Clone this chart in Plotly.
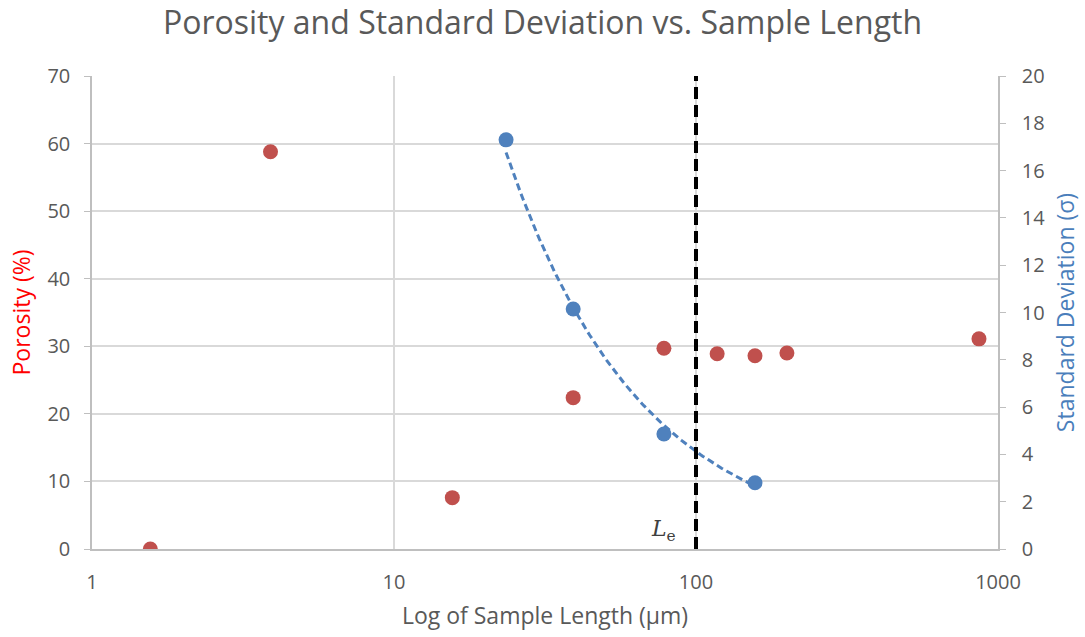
import numpy as np
import plotly.graph_objects as go

# Porosity measurements (left axis)
porosity_length = [1.56, 3.9, 15.6, 39.2, 78.3, 117.5, 156.8, 200, 865]
porosity_pct = [0.0, 58.8, 7.6, 22.4, 29.7, 28.9, 28.6, 29.0, 31.1]

# Standard deviation measurements (right axis)
sd_length = [23.5, 39.2, 78.3, 156.8]
sd_sigma = [17.3, 10.15, 4.86, 2.8]

# Representative elementary length marker
le_length = 100

x_ticks = [1, 10, 100, 1000]

GRAY = "#595959"
FONT = "Open Sans"

# Power-law trend of sigma vs length (least squares in log-log space)
b, ln_a = np.polyfit(np.log(sd_length), np.log(sd_sigma), 1)
trend_x = np.logspace(np.log10(min(sd_length)), np.log10(max(sd_length)), 120)
trend_y = np.exp(ln_a) * trend_x ** b

fig = go.Figure()

fig.add_trace(go.Scatter(
    x=trend_x, y=trend_y, mode="lines", yaxis="y2",
    line=dict(color="#4F81BD", width=3, dash="7px,4px"),
    hoverinfo="skip", showlegend=False,
))

fig.add_trace(go.Scatter(
    x=porosity_length, y=porosity_pct, mode="markers",
    marker=dict(color="#C0504D", size=15),
    name="Porosity", showlegend=False,
))

fig.add_trace(go.Scatter(
    x=sd_length, y=sd_sigma, mode="markers", yaxis="y2",
    marker=dict(color="#4F81BD", size=15),
    name="Standard Deviation", showlegend=False,
))

fig.add_shape(
    type="line", xref="x", yref="paper",
    x0=le_length, x1=le_length, y0=0, y1=1,
    line=dict(color="black", width=4, dash="12px,6px"),
)

fig.add_annotation(
    x=np.log10(le_length), y=0, xref="x", yref="y",
    text="<i>L</i><sub>e</sub>", showarrow=False,
    xanchor="right", yanchor="bottom", xshift=-18, yshift=2,
    font=dict(family="DejaVu Serif", size=22, color="#404040"),
)

fig.update_layout(
    width=1085, height=637,
    margin=dict(l=92, r=87, t=76, b=88),
    paper_bgcolor="white", plot_bgcolor="white",
    font=dict(family=FONT, color=GRAY, size=20),
    title=dict(
        text="Porosity and Standard Deviation vs. Sample Length",
        x=0.5, xanchor="center", y=0.964, yanchor="middle",
        font=dict(size=32, color=GRAY, family=FONT),
    ),
    xaxis=dict(
        type="log", range=[0, 3], automargin=False,
        tickvals=x_ticks, ticktext=[str(v) for v in x_ticks],
        showgrid=True, gridcolor="#D9D9D9", gridwidth=1.5,
        showline=True, linecolor="#BFBFBF", linewidth=1.5,
        ticks="", zeroline=False, ticklabelstandoff=14,
        tickfont=dict(size=20, color=GRAY),
        title=dict(text="Log of Sample Length (μm)", font=dict(size=23, color=GRAY), standoff=14),
    ),
    yaxis=dict(
        range=[0, 70], dtick=10, automargin=False,
        showgrid=True, gridcolor="#D9D9D9", gridwidth=1.5,
        showline=True, linecolor="#BFBFBF", linewidth=1.5,
        ticks="outside", ticklen=6, tickcolor="#BFBFBF",
        zeroline=False, ticklabelstandoff=10,
        tickfont=dict(size=20, color=GRAY),
        title=dict(text="Porosity (%)", font=dict(size=23, color="#FF0000"), standoff=10),
    ),
    yaxis2=dict(
        overlaying="y", side="right", automargin=False,
        range=[0, 20], dtick=2,
        showgrid=False,
        showline=True, linecolor="#BFBFBF", linewidth=1.5,
        ticks="outside", ticklen=6, tickcolor="#BFBFBF",
        zeroline=False, ticklabelstandoff=12,
        tickfont=dict(size=20, color=GRAY),
        title=dict(text="Standard Deviation (σ)", font=dict(size=23, color="#4A7EBB"), standoff=14),
    ),
)

fig.write_html("out.html")
